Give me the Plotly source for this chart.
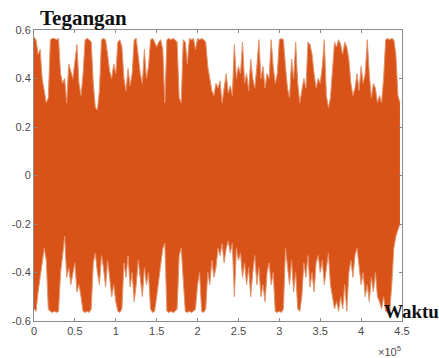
import plotly.graph_objects as go

# sample index (step 2500 samples)
sample_step = 2500
n_points = 180
x_samples = [i * sample_step for i in range(n_points)]

# upper envelope of the signal (volts)
upper = [0.57, 0.56, 0.50, 0.52, 0.40, 0.35, 0.30, 0.32, 0.56, 0.565,
         0.565, 0.56, 0.565, 0.42, 0.38, 0.40, 0.30, 0.46, 0.43, 0.40,
         0.47, 0.54, 0.38, 0.33, 0.42, 0.56, 0.565, 0.56, 0.55, 0.38,
         0.28, 0.27, 0.35, 0.56, 0.565, 0.56, 0.50, 0.43, 0.40, 0.46,
         0.42, 0.55, 0.56, 0.53, 0.40, 0.35, 0.44, 0.37, 0.42, 0.56,
         0.565, 0.50, 0.42, 0.38, 0.52, 0.40, 0.45, 0.56, 0.565, 0.55,
         0.53, 0.55, 0.56, 0.52, 0.30, 0.56, 0.565, 0.56, 0.565, 0.56,
         0.55, 0.32, 0.30, 0.56, 0.55, 0.46, 0.565, 0.56, 0.565, 0.52,
         0.565, 0.56, 0.565, 0.56, 0.55, 0.45, 0.40, 0.35, 0.33, 0.38,
         0.36, 0.39, 0.30, 0.36, 0.42, 0.34, 0.37, 0.33, 0.54, 0.40,
         0.45, 0.42, 0.55, 0.38, 0.42, 0.35, 0.48, 0.40, 0.36, 0.45,
         0.56, 0.40, 0.45, 0.36, 0.42, 0.40, 0.56, 0.45, 0.38, 0.42,
         0.56, 0.565, 0.56, 0.45, 0.36, 0.32, 0.48, 0.40, 0.55, 0.38,
         0.30, 0.35, 0.40, 0.36, 0.55, 0.54, 0.50, 0.42, 0.36, 0.40,
         0.38, 0.45, 0.56, 0.33, 0.28, 0.32, 0.45, 0.55, 0.53, 0.56,
         0.54, 0.50, 0.55, 0.53, 0.48, 0.38, 0.33, 0.36, 0.42, 0.35,
         0.45, 0.38, 0.42, 0.56, 0.42, 0.32, 0.38, 0.36, 0.30, 0.33,
         0.30, 0.40, 0.56, 0.565, 0.56, 0.565, 0.56, 0.50, 0.33, 0.30]

# lower envelope of the signal (volts)
lower = [-0.55, -0.56, -0.48, -0.42, -0.35, -0.30, -0.35, -0.55, -0.56, -0.565,
         -0.56, -0.565, -0.56, -0.40, -0.33, -0.25, -0.42, -0.38, -0.45, -0.40,
         -0.36, -0.48, -0.45, -0.50, -0.56, -0.565, -0.56, -0.565, -0.55, -0.36,
         -0.32, -0.40, -0.45, -0.33, -0.38, -0.46, -0.35, -0.42, -0.50, -0.45,
         -0.52, -0.56, -0.565, -0.55, -0.36, -0.42, -0.33, -0.46, -0.40, -0.52,
         -0.45, -0.35, -0.42, -0.50, -0.38, -0.45, -0.40, -0.55, -0.565, -0.56,
         -0.50, -0.44, -0.38, -0.30, -0.28, -0.56, -0.565, -0.56, -0.565, -0.56,
         -0.55, -0.33, -0.30, -0.45, -0.56, -0.565, -0.56, -0.565, -0.56, -0.55,
         -0.45, -0.40, -0.56, -0.565, -0.55, -0.40, -0.45, -0.35, -0.42, -0.38,
         -0.30, -0.33, -0.28, -0.36, -0.30, -0.27, -0.32, -0.28, -0.50, -0.30,
         -0.35, -0.32, -0.42, -0.36, -0.45, -0.38, -0.50, -0.40, -0.33, -0.45,
         -0.38, -0.50, -0.45, -0.52, -0.40, -0.36, -0.45, -0.40, -0.56, -0.565,
         -0.56, -0.565, -0.55, -0.30, -0.38, -0.45, -0.35, -0.48, -0.40, -0.55,
         -0.56, -0.50, -0.36, -0.42, -0.33, -0.46, -0.40, -0.48, -0.36, -0.33,
         -0.40, -0.35, -0.45, -0.38, -0.32, -0.45, -0.50, -0.55, -0.52, -0.56,
         -0.50, -0.55, -0.45, -0.56, -0.40, -0.35, -0.42, -0.33, -0.30, -0.38,
         -0.45, -0.40, -0.50, -0.45, -0.52, -0.42, -0.48, -0.40, -0.50, -0.52,
         -0.55, -0.50, -0.56, -0.565, -0.56, -0.45, -0.30, -0.25, -0.22, -0.20]

x_tick_vals = [0, 50000, 100000, 150000, 200000, 250000, 300000, 350000, 400000, 450000]
x_tick_text = ["0", "0.5", "1", "1.5", "2", "2.5", "3", "3.5", "4", "4.5"]
y_tick_vals = [-0.6, -0.4, -0.2, 0, 0.2, 0.4, 0.6]
y_tick_text = ["-0.6", "-0.4", "-0.2", "0", "0.2", "0.4", "0.6"]

color = "#D95319"
edge_color = "#E3946A"

fig = go.Figure()
fig.add_trace(go.Scatter(x=x_samples, y=lower, mode="lines",
                         line=dict(color=edge_color, width=1, shape="linear"),
                         hoverinfo="skip", showlegend=False))
fig.add_trace(go.Scatter(x=x_samples, y=upper, mode="lines",
                         line=dict(color=edge_color, width=1, shape="linear"),
                         fill="tonexty", fillcolor=color,
                         hoverinfo="skip", showlegend=False))

axis_common = dict(showgrid=False, zeroline=False, showline=True, mirror="ticks",
                   linecolor="#8c8c8c", linewidth=1, ticks="inside", ticklen=3,
                   tickcolor="#8c8c8c", automargin=False,
                   tickfont=dict(family="Liberation Sans, Arial, sans-serif",
                                 size=11, color="#4a4a4a"))

fig.update_xaxes(range=[0, 450000], tickvals=x_tick_vals, ticktext=x_tick_text,
                 **axis_common)
fig.update_yaxes(range=[-0.6, 0.6], tickvals=y_tick_vals, ticktext=y_tick_text,
                 **axis_common)

fig.add_annotation(text="<b>Tegangan</b>", xref="paper", yref="paper",
                   x=0.0, y=1.0, xanchor="left", yanchor="bottom", yshift=-2,
                   xshift=4, showarrow=False,
                   font=dict(family="Liberation Serif, Times New Roman, serif",
                             size=21, color="#111111"))
fig.add_annotation(text="<b>Waktu</b>", xref="paper", yref="paper",
                   x=0.945, y=0.0, xanchor="left", yanchor="bottom", yshift=-3,
                   showarrow=False,
                   font=dict(family="Liberation Serif, Times New Roman, serif",
                             size=19, color="#111111"))
fig.add_annotation(text="×10<sup>5</sup>", xref="paper", yref="paper",
                   x=1.0, y=0.0, xanchor="right", yanchor="top", yshift=-21,
                   xshift=1, showarrow=False,
                   font=dict(family="Liberation Sans, Arial, sans-serif",
                             size=11, color="#4a4a4a"))

fig.update_layout(width=439, height=358,
                  margin=dict(l=34, r=37, t=30, b=37),
                  paper_bgcolor="white", plot_bgcolor="white")

fig.write_html("out.html", config={"displayModeBar": False},
               post_script="document.body.style.margin='0';document.body.style.overflow='hidden';")
